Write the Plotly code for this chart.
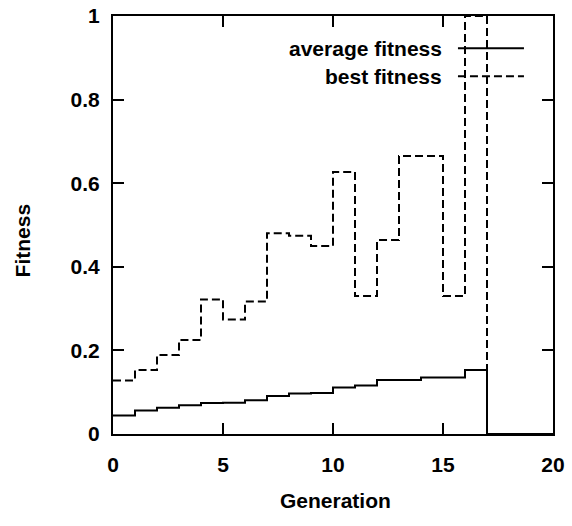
import plotly.graph_objects as go

generations = list(range(0, 21))
average_fitness = [0.044, 0.056, 0.063, 0.069, 0.074, 0.075, 0.081, 0.091, 0.097, 0.098,
                   0.111, 0.116, 0.129, 0.129, 0.135, 0.135, 0.153, 0, 0, 0, 0]
best_fitness = [0.128, 0.153, 0.189, 0.225, 0.322, 0.274, 0.317, 0.480, 0.474, 0.450,
                0.627, 0.330, 0.464, 0.665, 0.665, 0.330, 1.0, 0, 0, 0, 0]
series_names = ["average fitness", "best fitness"]
x_ticks = [0, 5, 10, 15, 20]
y_ticks = [0, 0.2, 0.4, 0.6, 0.8, 1]
y_tick_labels = ["0", "0.2", "0.4", "0.6", "0.8", "1"]

FONT = dict(family="Liberation Sans, Arial, sans-serif", size=21, color="black", weight="bold")

fig = go.Figure()
fig.add_trace(go.Scatter(x=generations, y=average_fitness, mode="lines", line_shape="hv",
                         line=dict(color="black", width=2), name=series_names[0], showlegend=False))
fig.add_trace(go.Scatter(x=generations, y=best_fitness, mode="lines", line_shape="hv",
                         line=dict(color="black", width=2, dash="8px,4px"), name=series_names[1],
                         showlegend=False))

# legend (gnuplot style: text on the left, sample on the right)
rows = [(0.923, "solid"), (0.856, "8px,4px")]
for (yy, dash), name in zip(rows, series_names):
    fig.add_annotation(x=0.752, y=yy, xref="paper", yref="paper", text=name, showarrow=False,
                       xanchor="right", yanchor="middle", font=FONT)
    fig.add_shape(type="line", xref="paper", yref="paper", x0=0.784, x1=0.934, y0=yy, y1=yy,
                  line=dict(color="black", width=2, dash=dash))

fig.add_annotation(x=-0.206, y=0.464, xref="paper", yref="paper", text="Fitness", showarrow=False,
                   textangle=-90, xanchor="center", yanchor="middle", font=FONT)
fig.add_annotation(x=0.506, y=-0.158, xref="paper", yref="paper", text="Generation", showarrow=False,
                   xanchor="center", yanchor="middle", font=FONT)

axis_common = dict(showline=True, linecolor="black", linewidth=2, mirror="ticks", ticks="inside",
                   ticklen=11, tickwidth=2, tickcolor="black", showgrid=False, zeroline=False,
                   tickfont=FONT, automargin=False)
fig.update_xaxes(range=[0, 20], tickvals=x_ticks, ticktext=[str(v) for v in x_ticks],
                 ticklabelstandoff=11, **axis_common)
fig.update_yaxes(range=[0, 1], tickvals=y_ticks, ticktext=y_tick_labels,
                 ticklabelstandoff=7, **axis_common)

fig.update_layout(width=572, height=526, margin=dict(l=113, r=19, t=16, b=92),
                  plot_bgcolor="white", paper_bgcolor="white", showlegend=False)

fig.write_html("out.html", config={"displayModeBar": False},
               post_script="document.body.style.margin='0px';document.body.style.overflow='hidden';")
